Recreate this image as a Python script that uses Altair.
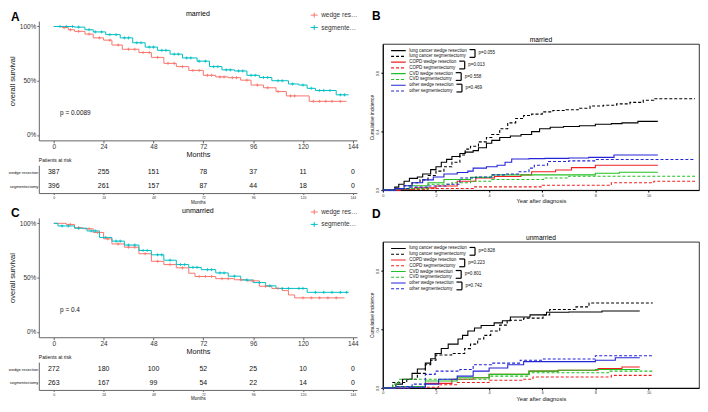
import altair as alt
import pandas as pd

FONT = "Liberation Sans"
KM_RED = "#F8766D"
KM_TEAL = "#00BFC4"
CROSS = "M-1,0H1M0,-1V1"

# ---------------- Kaplan-Meier: married (A) ----------------
A_wedge_t = [0, 4, 7, 10, 15, 19, 24, 28, 33, 41, 47, 53, 59, 65, 72, 78, 84, 90, 95, 101, 107, 112, 123, 141]
A_wedge_s = [1.0, 0.99, 0.97, 0.955, 0.93, 0.895, 0.874, 0.829, 0.79, 0.76, 0.715, 0.66, 0.63, 0.595, 0.55, 0.535, 0.528, 0.505, 0.46, 0.435, 0.40, 0.36, 0.31, 0.31]
A_seg_t = [0, 10, 15, 19, 25, 32, 38, 44, 50, 56, 62, 69, 75, 81, 87, 93, 99, 105, 113, 118, 122, 126, 136, 142]
A_seg_s = [1.0, 0.994, 0.97, 0.95, 0.925, 0.895, 0.85, 0.81, 0.78, 0.745, 0.71, 0.68, 0.63, 0.60, 0.59, 0.55, 0.53, 0.50, 0.47, 0.46, 0.43, 0.41, 0.37, 0.37]
A_wedge_cens = [5, 8, 12, 17, 22, 27, 31, 36, 39, 43, 46, 50, 55, 58, 62, 67, 70, 74, 76, 80, 82, 86, 88, 93, 98, 103, 108, 114, 116, 125, 128, 131, 134, 138]
A_seg_cens = [3, 6, 9, 12, 17, 20, 23, 27, 30, 34, 36, 40, 42, 46, 48, 52, 54, 58, 60, 64, 66, 70, 73, 77, 79, 83, 85, 89, 91, 95, 97, 101, 103, 108, 110, 115, 120, 124, 128, 130, 133, 138, 140]

# ---------------- Kaplan-Meier: unmarried (C) ----------------
C_wedge_t = [0, 6, 10, 14, 19, 24, 28, 34, 41, 47, 53, 59, 65, 68, 78, 87, 93, 99, 105, 110, 113, 116, 140]
C_wedge_s = [1.0, 0.99, 0.96, 0.95, 0.916, 0.857, 0.81, 0.78, 0.72, 0.65, 0.62, 0.59, 0.54, 0.51, 0.49, 0.48, 0.47, 0.42, 0.40, 0.38, 0.34, 0.313, 0.313]
C_seg_t = [0, 2, 10, 16, 22, 28, 34, 41, 47, 53, 59, 65, 71, 78, 84, 90, 96, 102, 107, 122, 142]
C_seg_s = [1.0, 0.976, 0.955, 0.93, 0.87, 0.836, 0.80, 0.75, 0.71, 0.66, 0.62, 0.594, 0.573, 0.543, 0.513, 0.478, 0.454, 0.424, 0.40, 0.364, 0.364]
C_wedge_cens = [8, 12, 17, 21, 26, 31, 36, 39, 44, 50, 56, 62, 70, 73, 76, 81, 84, 90, 96, 102, 108, 120, 124, 128, 132, 136]
C_seg_cens = [4, 7, 12, 18, 20, 25, 30, 32, 36, 39, 43, 45, 50, 52, 56, 61, 63, 67, 69, 74, 76, 80, 82, 87, 93, 99, 104, 110, 113, 118, 120, 126, 130, 134, 138, 141]

# ---------------- risk tables ----------------
RISK_T = [0, 24, 48, 72, 96, 120, 144]
A_risk_wedge = [387, 255, 151, 78, 37, 11, 0]
A_risk_seg = [396, 261, 157, 87, 44, 18, 0]
C_risk_wedge = [272, 180, 100, 52, 25, 10, 0]
C_risk_seg = [263, 167, 99, 54, 22, 14, 0]
KM_GROUPS = ["wedge resection", "segmentectomy"]

# ---------------- cumulative incidence: married (B) ----------------
SERIES = ["lung cancer wedge resection", "lung cancer segmentectomy",
          "COPD wedge resection", "COPD segmentectomy",
          "CVD wedge resection", "CVD segmentectomy",
          "other wedge resection", "other segmentectomy"]
SERIES_COLORS = ["#000000", "#000000", "#F02020", "#F02020", "#22C022", "#22C022", "#2424D8", "#2424D8"]
SERIES_DASH = [[1, 0], [3, 2], [1, 0], [3, 2], [1, 0], [3, 2], [1, 0], [3, 2]]

B_t = [
    [0, 0.45, 0.6, 0.8, 1.0, 1.3, 1.5, 1.8, 2.0, 2.2, 2.4, 2.6, 2.9, 3.1, 3.4, 3.6, 3.9, 4.1, 4.4, 4.8, 5.2, 5.6, 5.9, 6.3, 6.8, 7.4, 8.0, 8.6, 9.0, 9.6, 10.35],
    [0, 0.5, 0.8, 1.1, 1.4, 1.7, 2.0, 2.3, 2.6, 2.9, 3.1, 3.3, 3.6, 3.9, 4.1, 4.4, 4.7, 5.0, 5.3, 5.6, 6.0, 6.4, 6.9, 7.4, 7.8, 8.3, 8.8, 9.3, 9.8, 10.2, 11.75],
    [0, 0.6, 1.2, 2.0, 2.8, 3.5, 4.2, 5.2, 5.6, 6.5, 7.1, 8.0, 10.35],
    [0, 0.7, 1.7, 3.4, 6.0, 8.6, 10.2, 11.75],
    [0, 0.45, 1.0, 1.7, 2.3, 3.3, 4.1, 8.0, 8.9, 10.35],
    [0, 0.45, 1.7, 2.6, 3.3, 4.1, 6.05, 7.0, 11.75],
    [0, 0.45, 0.8, 1.1, 1.5, 1.9, 2.3, 2.8, 3.2, 3.4, 3.9, 4.3, 4.6, 4.85, 5.5, 6.1, 7.0, 7.75, 8.7, 10.35],
    [0, 0.5, 1.0, 1.7, 2.4, 2.9, 3.5, 4.1, 4.6, 5.1, 5.5, 5.7, 6.2, 7.0, 8.0, 11.75],
]
B_v = [
    [0, 0.02, 0.04, 0.06, 0.08, 0.09, 0.11, 0.14, 0.16, 0.19, 0.21, 0.23, 0.25, 0.26, 0.27, 0.29, 0.32, 0.34, 0.36, 0.37, 0.38, 0.40, 0.42, 0.43, 0.435, 0.44, 0.45, 0.455, 0.46, 0.47, 0.47],
    [0, 0.01, 0.03, 0.05, 0.07, 0.10, 0.13, 0.16, 0.19, 0.24, 0.28, 0.30, 0.33, 0.36, 0.38, 0.42, 0.46, 0.49, 0.51, 0.52, 0.535, 0.545, 0.55, 0.56, 0.575, 0.58, 0.59, 0.60, 0.615, 0.625, 0.625],
    [0, 0.005, 0.015, 0.028, 0.06, 0.083, 0.093, 0.104, 0.126, 0.137, 0.154, 0.17, 0.17],
    [0, 0.005, 0.011, 0.022, 0.033, 0.05, 0.061, 0.061],
    [0, 0.01, 0.03, 0.05, 0.072, 0.087, 0.104, 0.115, 0.122, 0.122],
    [0, 0.01, 0.04, 0.05, 0.061, 0.072, 0.083, 0.095, 0.095],
    [0, 0.01, 0.03, 0.05, 0.07, 0.09, 0.11, 0.12, 0.13, 0.15, 0.16, 0.17, 0.19, 0.213, 0.215, 0.217, 0.22, 0.224, 0.24, 0.24],
    [0, 0.01, 0.02, 0.028, 0.04, 0.083, 0.09, 0.104, 0.11, 0.126, 0.15, 0.17, 0.196, 0.20, 0.209, 0.209],
]
B_pvals = ["p=0.055", "p=0.013", "p=0.558", "p=0.469"]

# ---------------- cumulative incidence: unmarried (D) ----------------
D_t = [
    [0, 0.49, 0.74, 1.1, 1.3, 1.6, 1.8, 1.97, 2.2, 2.46, 2.83, 3.0, 3.2, 3.45, 3.7, 4.19, 4.5, 4.8, 5.54, 6.16, 7.0, 8.25, 9.67],
    [0, 0.37, 0.9, 1.3, 1.6, 1.8, 2.0, 2.59, 3.08, 3.3, 3.57, 3.8, 4.06, 4.4, 4.68, 5.3, 6.03, 6.28, 7.27, 7.76, 10.16],
    [0, 0.5, 1.6, 2.6, 3.4, 4.0, 5.5, 6.6, 8.1, 9.0, 9.67],
    [0, 1.0, 2.1, 2.8, 4.0, 5.3, 5.65, 8.6, 10.16],
    [0, 0.5, 1.6, 2.8, 4.0, 5.5, 6.6, 8.0, 9.67],
    [0, 0.37, 0.6, 4.0, 5.5, 8.5, 10.16],
    [0, 1.0, 1.6, 2.1, 2.8, 3.4, 4.0, 4.7, 5.3, 8.0, 8.75, 9.67],
    [0, 0.5, 1.1, 1.6, 1.97, 2.9, 3.4, 4.1, 5.17, 6.0, 8.0, 10.16],
]
D_v = [
    [0, 0.026, 0.06, 0.10, 0.13, 0.17, 0.20, 0.236, 0.27, 0.30, 0.335, 0.36, 0.39, 0.41, 0.427, 0.445, 0.46, 0.485, 0.50, 0.518, 0.52, 0.526, 0.526],
    [0, 0.037, 0.06, 0.10, 0.159, 0.19, 0.225, 0.236, 0.269, 0.30, 0.335, 0.36, 0.39, 0.43, 0.463, 0.478, 0.50, 0.537, 0.555, 0.581, 0.581],
    [0, 0.01, 0.031, 0.06, 0.07, 0.093, 0.115, 0.121, 0.132, 0.143, 0.143],
    [0, 0.005, 0.022, 0.037, 0.053, 0.06, 0.075, 0.086, 0.086],
    [0, 0.01, 0.048, 0.07, 0.093, 0.115, 0.121, 0.126, 0.126],
    [0, 0.026, 0.06, 0.081, 0.104, 0.115, 0.115],
    [0, 0.005, 0.026, 0.06, 0.081, 0.115, 0.137, 0.159, 0.18, 0.19, 0.207, 0.207],
    [0, 0.01, 0.026, 0.093, 0.115, 0.126, 0.159, 0.17, 0.19, 0.198, 0.22, 0.22],
]
D_pvals = ["p=0.828", "p=0.223", "p=0.801", "p=0.742"]

# ---------------- layout constants ----------------
KM_W, KM_H, TB_H = 320, 120, 28
CI_W, CI_H = 318, 147
CI_XMAX = 11.9

ARIAL = {' ': .278, 'a': .556, 'b': .556, 'c': .5, 'd': .556, 'e': .556, 'f': .278, 'g': .556,
         'h': .556, 'i': .222, 'k': .5, 'l': .222, 'm': .833, 'n': .556, 'o': .556, 'p': .556,
         'r': .333, 's': .5, 't': .278, 'u': .556, 'v': .5, 'w': .722, 'y': .5,
         'C': .722, 'O': .778, 'P': .667, 'D': .722, 'V': .667}


def text_w(s, fs):
    return sum(ARIAL.get(c, .556) for c in s) * fs


def step_val(ts, ss, x):
    v = ss[0]
    for t, s in zip(ts, ss):
        if t <= x:
            v = s
        else:
            break
    return v


KM_XS = alt.Scale(domain=[-7.2, 146], nice=False, zero=False)
KM_YS = alt.Scale(domain=[-0.05, 1.05], nice=False, zero=False)
KM_COLOR_SCALE = alt.Scale(domain=KM_GROUPS, range=[KM_RED, KM_TEAL])


def label_text(text, x, y, size, weight="normal", align="left"):
    return alt.Chart(pd.DataFrame({"label": [text]})).mark_text(
        align=align, baseline="middle", fontSize=size, fontWeight=weight, font=FONT, color="#000"
    ).encode(x=alt.value(x), y=alt.value(y), text="label:N")


def km_panel(title, letter, pval, wt, ws, wc, st, ss, sc):
    lines = pd.DataFrame({
        "t": wt + st,
        "s": ws + ss,
        "group": [KM_GROUPS[0]] * len(wt) + [KM_GROUPS[1]] * len(st),
    })
    cens = pd.DataFrame({
        "t": wc + sc,
        "s": [step_val(wt, ws, x) for x in wc] + [step_val(st, ss, x) for x in sc],
        "group": [KM_GROUPS[0]] * len(wc) + [KM_GROUPS[1]] * len(sc),
    })
    legend = alt.Legend(orient="none", legendX=KM_W - 47, legendY=-10, title=None,
                        symbolType="M-1,0H1M0,-0.7V0.7", symbolSize=49, symbolStrokeWidth=1,
                        labelFontSize=6.5, labelFont=FONT, labelColor="#333", labelOffset=3,
                        labelLimit=38, rowPadding=2.5, padding=0)
    color = alt.Color("group:N", scale=KM_COLOR_SCALE, legend=legend)
    xaxis = alt.Axis(values=RISK_T, title="Months", labelFontSize=6.5, titleFontSize=7.3,
                     titleFontWeight="normal", tickSize=2.5, labelPadding=1, titlePadding=0,
                     domainColor="#666", tickColor="#666", labelColor="#333", titleColor="#111",
                     grid=False, labelFlush=False)
    yaxis = alt.Axis(values=[0, 0.25, 0.5, 0.75, 1.0], format=".0%", title="overall survival",
                     labelFontSize=6.5, titleFontSize=7.6, titleFontWeight="normal", tickSize=2,
                     labelPadding=1, titlePadding=3, domainColor="#666", tickColor="#666",
                     labelColor="#333", titleColor="#111", grid=False)
    line = alt.Chart(lines).mark_line(interpolate="step-after", strokeWidth=1).encode(
        x=alt.X("t:Q", scale=KM_XS, axis=xaxis),
        y=alt.Y("s:Q", scale=KM_YS, axis=yaxis),
        color=color,
    )
    pts = alt.Chart(cens).mark_point(shape=CROSS, filled=False, size=10, strokeWidth=0.8, opacity=1).encode(
        x="t:Q", y="s:Q", color=color,
    )
    ptxt = alt.Chart(pd.DataFrame({"t": [3], "s": [0.2], "label": [pval]})).mark_text(
        align="left", baseline="middle", fontSize=6.5, font=FONT, color="#111"
    ).encode(x="t:Q", y="s:Q", text="label:N")
    return alt.layer(
        line, pts, ptxt,
        label_text(letter, -28, -4.5, 12, "bold"),
        label_text(title, KM_W / 2, -7, 7.1, "normal", "center"),
    ).properties(width=KM_W, height=KM_H)


def risk_table(wedge, seg):
    df = pd.DataFrame({
        "t": RISK_T * 2,
        "row": [KM_GROUPS[0]] * len(RISK_T) + [KM_GROUPS[1]] * len(RISK_T),
        "n": wedge + seg,
    })
    return alt.Chart(df).mark_text(fontSize=7, font=FONT, color="#111").encode(
        x=alt.X("t:Q", scale=KM_XS,
                axis=alt.Axis(values=RISK_T, title="Months", labelFontSize=3.5, titleFontSize=4.5,
                              titleFontWeight="normal", tickSize=1.5, labelPadding=1, titlePadding=0,
                              domainColor="#666", tickColor="#666", labelColor="#333",
                              titleColor="#111", grid=False, labelFlush=False)),
        y=alt.Y("row:N", sort=KM_GROUPS,
                axis=alt.Axis(title=None, ticks=False, labelFontSize=4.1, labelPadding=1,
                              domainColor="#666", labelColor="#111", grid=False)),
        text="n:Q",
    ).properties(
        width=KM_W, height=TB_H,
        title=alt.TitleParams("Patients at risk", anchor="start", frame="group", fontSize=5,
                              fontWeight="normal", font=FONT, color="#111", offset=2),
    )


# legend geometry for the cumulative incidence panels (pixels from frame top-left)
LEG_X0, LEG_X1 = 8.3, 23.0
LEG_LAB = 26.5
LEG_FS = 4.55
LEG_PITCH = 5.8
LEG_ROW0 = 6.7


def ci_panel(title, letter, ts, vs, pvals):
    rows = []
    for name, t, v in zip(SERIES, ts, vs):
        for a, b in zip(t, v):
            rows.append({"t": a, "v": b, "series": name})
    df = pd.DataFrame(rows)
    xs = alt.Scale(domain=[0, CI_XMAX], nice=False, zero=True)
    ys = alt.Scale(domain=[0, 1], nice=False)
    cscale = alt.Scale(domain=SERIES, range=SERIES_COLORS)
    dscale = alt.Scale(domain=SERIES, range=SERIES_DASH)
    xaxis = alt.Axis(values=[0, 2, 4, 6, 8, 10], title="Year after diagnosis", labelFontSize=3.8,
                     titleFontSize=5.7, titleFontWeight="normal", tickSize=2, labelPadding=1,
                     titlePadding=1, domainColor="#000", tickColor="#000", labelColor="#333",
                     titleColor="#111", grid=False, labelFlush=False)
    yaxis = alt.Axis(values=[0, 0.2, 0.4, 0.6, 0.8, 1.0], format=".1f", title="Cumulative incidence",
                     labelFontSize=3.8, labelAngle=-90, titleFontSize=4.8, titleFontWeight="normal",
                     tickSize=2, labelPadding=1, titlePadding=1, domainColor="#000", tickColor="#000",
                     labelColor="#333", titleColor="#111", grid=False, labelFlush=False)
    lines = alt.Chart(df).mark_line(interpolate="step-after", strokeWidth=1.1).encode(
        x=alt.X("t:Q", scale=xs, axis=xaxis),
        y=alt.Y("v:Q", scale=ys, axis=yaxis),
        color=alt.Color("series:N", scale=cscale, legend=None),
        strokeDash=alt.StrokeDash("series:N", scale=dscale, legend=None),
    )
    # key (legend) drawn in data units, brackets and p-values beside it
    kx = CI_XMAX / CI_W
    ky = 1.0 / CI_H
    key_rows, lab_rows, seg_rows, txt_rows = [], [], [], []
    for r, name in enumerate(SERIES):
        yc = LEG_ROW0 + r * LEG_PITCH
        key_rows.append({"x": LEG_X0 * kx, "x2": LEG_X1 * kx, "y": 1 - yc * ky, "series": name})
        lab_rows.append({"x": LEG_LAB * kx, "y": 1 - yc * ky, "label": name})
    for k in range(4):
        y1 = LEG_ROW0 + 2 * k * LEG_PITCH - 1.0
        y2 = LEG_ROW0 + (2 * k + 1) * LEG_PITCH + 1.0
        wmax = max(text_w(SERIES[2 * k], LEG_FS), text_w(SERIES[2 * k + 1], LEG_FS))
        xl = LEG_LAB + wmax + 2.8
        xr = xl + 5.5
        for (a, b, c, d) in [(xl, xr, y1, y1), (xr, xr, y1, y2), (xl, xr, y2, y2)]:
            seg_rows.append({"x": a * kx, "x2": b * kx, "y": 1 - c * ky, "y2": 1 - d * ky})
        txt_rows.append({"x": (xr + 3.5) * kx, "y": 1 - (y1 + y2) / 2 * ky, "label": pvals[k]})
    key = alt.Chart(pd.DataFrame(key_rows)).mark_rule(strokeWidth=1.1).encode(
        x="x:Q", x2="x2:Q", y="y:Q",
        color=alt.Color("series:N", scale=cscale, legend=None),
        strokeDash=alt.StrokeDash("series:N", scale=dscale, legend=None),
    )
    keytxt = alt.Chart(pd.DataFrame(lab_rows)).mark_text(
        align="left", baseline="middle", fontSize=LEG_FS, font=FONT, color="#111"
    ).encode(x="x:Q", y="y:Q", text="label:N")
    brackets = alt.Chart(pd.DataFrame(seg_rows)).mark_rule(color="#000", strokeWidth=1.2).encode(
        x="x:Q", x2="x2:Q", y="y:Q", y2="y2:Q")
    ptxt = alt.Chart(pd.DataFrame(txt_rows)).mark_text(
        align="left", baseline="middle", fontSize=4.6, font=FONT, color="#111"
    ).encode(x="x:Q", y="y:Q", text="label:N")
    return alt.layer(
        lines, key, keytxt, brackets, ptxt,
        label_text(letter, -11, -28, 12, "bold"),
        label_text(title, CI_W / 2, -4, 6.7, "normal", "center"),
    ).properties(
        width=CI_W, height=CI_H,
        view=alt.ViewBackground(stroke="#000", strokeWidth=0.8),
    )


kmA = km_panel("married", "A", "p = 0.0089", A_wedge_t, A_wedge_s, A_wedge_cens, A_seg_t, A_seg_s, A_seg_cens)
tA = risk_table(A_risk_wedge, A_risk_seg)
kmC = km_panel("unmarried", "C", "p = 0.4", C_wedge_t, C_wedge_s, C_wedge_cens, C_seg_t, C_seg_s, C_seg_cens)
tC = risk_table(C_risk_wedge, C_risk_seg)
ciB = ci_panel("married", "B", B_t, B_v, B_pvals)
ciD = ci_panel("unmarried", "D", D_t, D_v, D_pvals)

spacer = alt.Chart(pd.DataFrame({"a": [0]})).mark_point(opacity=0).encode(
    x=alt.X("a:Q", axis=None), y=alt.Y("a:Q", axis=None)
).properties(width=CI_W, height=1)

left = alt.vconcat(kmA, tA, kmC, tC, spacing=25, bounds="flush").resolve_scale(
    color="independent")
right_inner = alt.vconcat(ciB, ciD, spacing=52, bounds="flush").resolve_scale(
    color="independent", strokeDash="independent")
right = alt.vconcat(spacer, right_inner, spacing=22, bounds="flush").resolve_scale(
    color="independent", strokeDash="independent")
chart = alt.hconcat(left, right, spacing=10, bounds="full").resolve_scale(
    color="independent", strokeDash="independent"
).properties(padding=0).configure(font=FONT, background="white").configure_view(stroke=None)

chart.save("out.html", embed_options={"renderer": "svg", "actions": False})
